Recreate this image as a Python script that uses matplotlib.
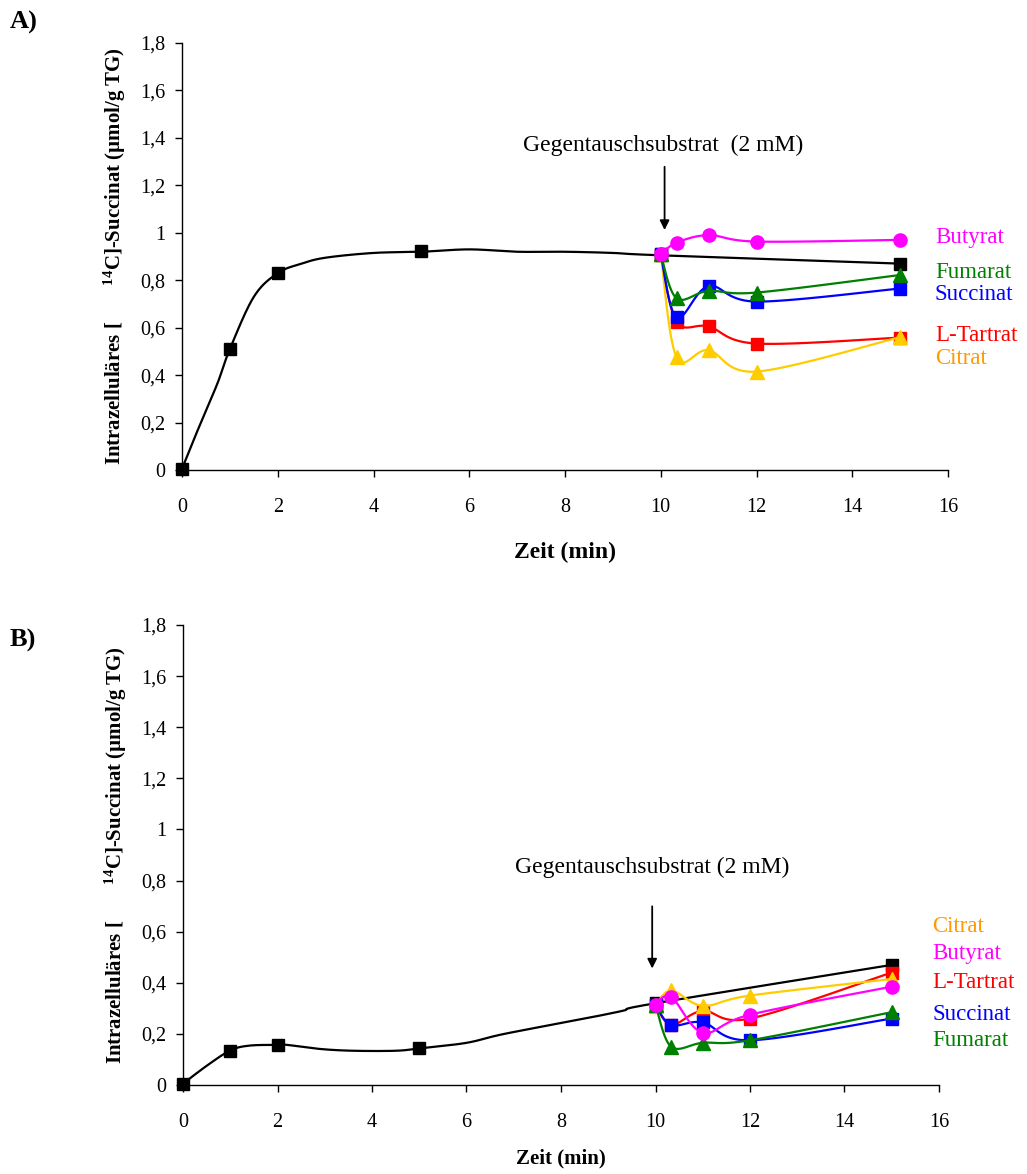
import numpy as np
import matplotlib
matplotlib.use("Agg")
import matplotlib.pyplot as plt

plt.rcParams['font.family'] = ['Liberation Serif', 'DejaVu Serif']
plt.rcParams['mathtext.fontset'] = 'custom'
plt.rcParams['mathtext.rm'] = 'Liberation Serif'
plt.rcParams['mathtext.bf'] = 'Liberation Serif:bold'

# control curve (no substrate added)
ctrl_a_x = [0, 0.25, 0.5, 0.75, 1, 1.5, 2, 2.5, 3, 4, 5, 6, 7, 8, 9, 10, 15]
ctrl_a_y = [0.005, 0.13, 0.25, 0.37, 0.51, 0.73, 0.83, 0.87, 0.895, 0.915, 0.92,
            0.93, 0.92, 0.92, 0.915, 0.905, 0.87]
ctrl_a_mx = [0, 1, 2, 5, 10, 15]
ctrl_a_my = [0.005, 0.51, 0.83, 0.925, 0.905, 0.87]

ctrl_b_x = [0, 0.5, 1, 1.4, 2, 2.2, 2.9, 3.6, 4.5, 5, 6, 6.8, 8.5, 9.3, 10, 15]
ctrl_b_y = [0.005, 0.075, 0.135, 0.154, 0.157, 0.157, 0.141, 0.134, 0.134, 0.143,
            0.165, 0.2, 0.26, 0.29, 0.32, 0.47]
ctrl_b_mx = [0, 1, 2, 5, 10, 15]
ctrl_b_my = [0.005, 0.135, 0.155, 0.143, 0.32, 0.47]

# exchange substrate added at 10 min
t_sub = [10, 10.33, 11, 12, 15]

a_tartrat = [0.91, 0.625, 0.605, 0.533, 0.558]
a_citrat = [0.91, 0.475, 0.505, 0.415, 0.56]
a_succinat = [0.91, 0.643, 0.775, 0.71, 0.765]
a_fumarat = [0.91, 0.724, 0.755, 0.748, 0.822]
a_butyrat = [0.91, 0.958, 0.99, 0.963, 0.97]

b_tartrat = [0.315, 0.235, 0.29, 0.26, 0.44]
b_succinat = [0.315, 0.235, 0.245, 0.175, 0.26]
b_fumarat = [0.315, 0.15, 0.165, 0.175, 0.285]
b_citrat = [0.31, 0.37, 0.31, 0.35, 0.415]
b_butyrat = [0.315, 0.345, 0.205, 0.275, 0.385]

names = ['L-Tartrat', 'Citrat', 'Succinat', 'Fumarat', 'Butyrat']
line_col = {'L-Tartrat': '#FF0000', 'Citrat': '#FFCC00', 'Succinat': '#0000FF',
            'Fumarat': '#008000', 'Butyrat': '#FF00FF'}
text_col = dict(line_col, Citrat='#FF9900')
marker = {'L-Tartrat': 's', 'Citrat': '^', 'Succinat': 's', 'Fumarat': '^',
          'Butyrat': 'o'}
msize = {'s': 9, '^': 10, 'o': 9.5}


def smooth(x, y, n=30):
    # Bezier smoothing like the spreadsheet "smoothed line"
    p = np.column_stack([x, y]).astype(float)
    ext = np.vstack([p[0], p, p[-1]])
    out = []
    t = np.linspace(0, 1, n)[:, None]
    for i in range(len(p) - 1):
        p0, p1, p2, p3 = ext[i], ext[i + 1], ext[i + 2], ext[i + 3]
        c1 = p1 + (p2 - p0) / 6
        c2 = p2 - (p3 - p1) / 6
        seg = ((1 - t) ** 3) * p1 + 3 * ((1 - t) ** 2) * t * c1 + 3 * (1 - t) * t ** 2 * c2 + t ** 3 * p2
        out.append(seg)
    out = np.vstack(out)
    return out[:, 0], out[:, 1]


def style(ax, xl_size, xl_pad):
    ax.set_xlim(0, 16)
    ax.set_ylim(0, 1.8)
    ax.set_xticks(np.arange(0, 17, 2))
    ax.set_yticks(np.arange(0, 1.81, 0.2))
    ax.set_yticklabels(['0', '0,2', '0,4', '0,6', '0,8', '1', '1,2', '1,4', '1,6', '1,8'])
    for s in ['top', 'right']:
        ax.spines[s].set_visible(False)
    for s in ['left', 'bottom']:
        ax.spines[s].set_linewidth(1.0)
    ax.tick_params(axis='both', direction='out', length=5, width=1, labelsize=14.5)
    ax.tick_params(axis='y', pad=7)
    ax.tick_params(axis='x', pad=15)
    ax.set_xlabel('Zeit (min)', fontsize=xl_size, fontweight='bold', labelpad=xl_pad)
    ax.set_ylabel(r'Intrazelluläres [       $\mathbf{^{14}}$C]-Succinat (µmol/g TG)',
                  fontsize=15, fontweight='bold', labelpad=9)


def draw(ax, cx, cy, mx, my, series, order):
    sx, sy = smooth(cx, cy)
    ax.plot(sx, sy, color='black', lw=1.6, zorder=2)
    ax.plot(mx, my, ls='none', marker='s', ms=9, color='black', zorder=3, clip_on=False)
    for k, name in enumerate(order):
        vals = series[name]
        lx, ly = smooth(t_sub, vals)
        m = marker[name]
        ax.plot(lx, ly, color=line_col[name], lw=1.6, zorder=4 + k)
        ax.plot(t_sub, vals, ls='none', marker=m, ms=msize[m], color=line_col[name],
                zorder=4 + k, clip_on=False)


fig = plt.figure(figsize=(10.27, 11.74), dpi=100)
W, H = 1027, 1174

ax1 = fig.add_axes([182 / W, 1 - 470 / H, (948 - 182) / W, (470 - 43) / H])
ax2 = fig.add_axes([183 / W, 1 - 1085 / H, (939 - 183) / W, (1085 - 625) / H])

series_a = dict(zip(names, [a_tartrat, a_citrat, a_succinat, a_fumarat, a_butyrat]))
series_b = dict(zip(names, [b_tartrat, b_citrat, b_succinat, b_fumarat, b_butyrat]))

draw(ax1, ctrl_a_x, ctrl_a_y, ctrl_a_mx, ctrl_a_my, series_a,
     ['L-Tartrat', 'Citrat', 'Succinat', 'Fumarat', 'Butyrat'])
draw(ax2, ctrl_b_x, ctrl_b_y, ctrl_b_mx, ctrl_b_my, series_b,
     ['L-Tartrat', 'Citrat', 'Succinat', 'Fumarat', 'Butyrat'])
style(ax1, 17, 18)
style(ax2, 15, 12)

# substrate addition arrows
ax1.annotate('', xy=(10.08, 1.0), xytext=(10.08, 1.29),
             arrowprops=dict(arrowstyle='-|>', color='black', lw=1.3, mutation_scale=14))
ax1.text(10.05, 1.37, 'Gegentauschsubstrat  (2 mM)', fontsize=17, ha='center', va='center')
ax2.annotate('', xy=(9.93, 0.445), xytext=(9.93, 0.71),
             arrowprops=dict(arrowstyle='-|>', color='black', lw=1.3, mutation_scale=14))
ax2.text(9.93, 0.85, 'Gegentauschsubstrat (2 mM)', fontsize=17, ha='center', va='center')

# series names beside the curves
labels_a = [('Butyrat', 237), ('Fumarat', 273), ('Succinat', 295), ('L-Tartrat', 335),
            ('Citrat', 358)]
for name, py in labels_a:
    fig.text(935 / W, 1 - py / H, name, color=text_col[name], fontsize=16.5, va='center')
labels_b = [('Citrat', 926), ('Butyrat', 953), ('L-Tartrat', 983), ('Succinat', 1014),
            ('Fumarat', 1040)]
for name, py in labels_b:
    fig.text(932 / W, 1 - py / H, name, color=text_col[name], fontsize=16.5, va='center')

fig.text(10 / W, 1 - 22 / H, 'A)', fontsize=19, fontweight='bold', va='center')
fig.text(10 / W, 1 - 640 / H, 'B)', fontsize=19, fontweight='bold', va='center')

fig.savefig('out.png', dpi=100)
